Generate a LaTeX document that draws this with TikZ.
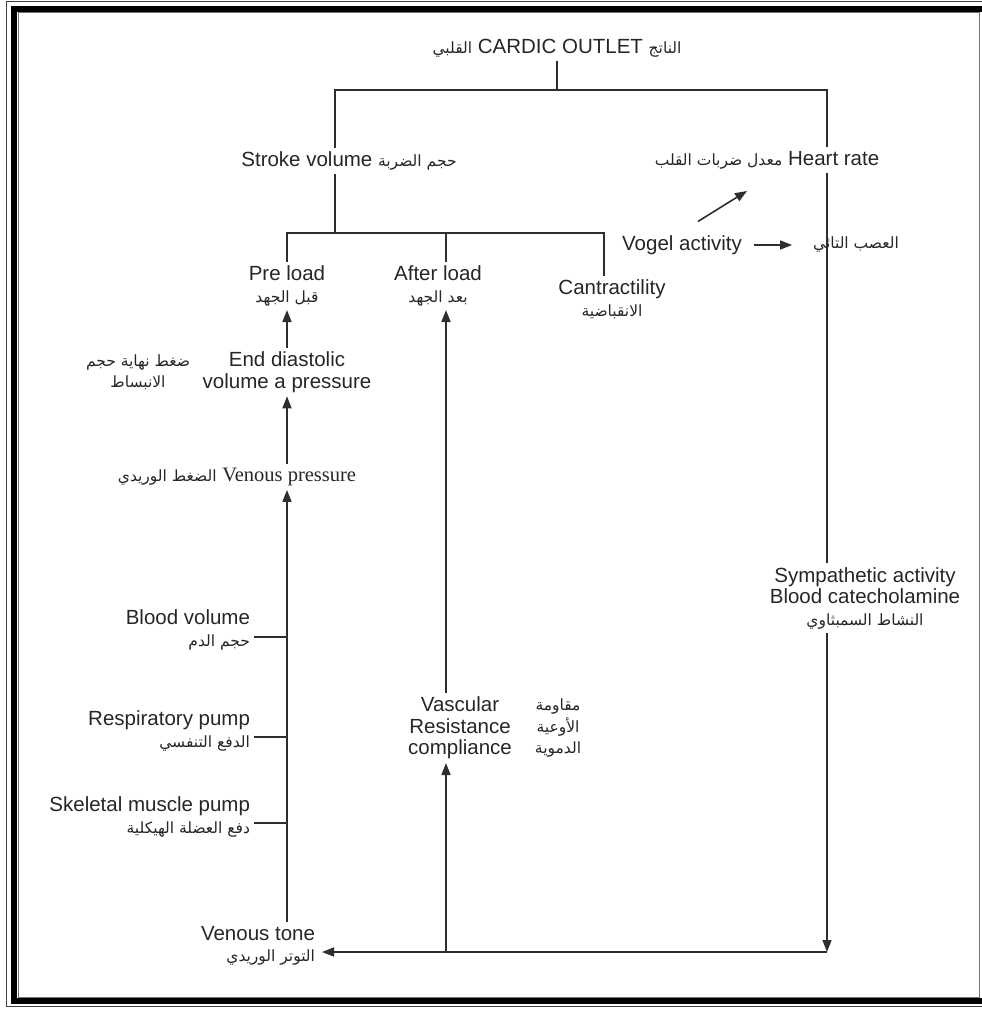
\documentclass[tikz,border=0pt]{standalone}
\usepackage{fontspec}
\setmainfont{Liberation Sans}
\newfontfamily\arfont[Script=Arabic]{DejaVu Sans}
\newfontfamily\serifen{Liberation Serif}
\TeXXeTstate=1
\usetikzlibrary{arrows.meta}
\newcommand{\AR}[1]{{\arfont\fontsize{15.5}{21.5}\selectfont\beginR #1\endR}}
\newcommand{\enfont}{\fontsize{20.5}{21.5}\selectfont}
\begin{document}
\begin{tikzpicture}[x=1pt,y=-1pt,
  ln/.style={draw=black!82, line width=1.6pt},
  arr/.style={ln, -{Triangle[length=12pt,width=9pt]}},
  lbl/.style={inner sep=0pt, outer sep=4pt, font=\enfont, align=center, text=black!85},
]
\useasboundingbox (0,0) rectangle (982,1009);
% frame
\draw[black!75, line width=1pt] (6.5,1.5) rectangle (998,1006.5);
\draw[black, line width=6.4pt] (14.2,9.2) rectangle (990,1001);
\draw[black!55, line width=1pt] (18.3,12.8) rectangle (979.5,997);

% nodes
\node[lbl] (co) at (557,48) {\AR{القلبي} CARDIC OUTLET \AR{الناتج}};
\node[lbl] (sv) at (349,161) {Stroke volume \AR{حجم الضربة}};
\node[lbl] (hr) at (767,160) {\AR{معدل ضربات القلب} Heart rate};
\node[lbl] (pl) at (287,286) {Pre load\\\AR{قبل الجهد}};
\node[lbl] (al) at (438,286) {After load\\\AR{بعد الجهد}};
\node[lbl] (ct) at (612,299) {Cantractility\\\AR{الانقباضية}};
\node[lbl] (vg) at (682,245) {Vogel activity};
\node[lbl] (vn) at (856,245) {\AR{العصب التائي}};
\node[lbl] (ea) at (138,372) {\AR{ضغط نهاية حجم}\\\AR{الانبساط}};
\node[lbl] (ed) at (287,372) {End diastolic\\volume a pressure};
\node[lbl] (vp) at (237,477) {\AR{الضغط الوريدي} {\serifen Venous pressure}};
\node[lbl, anchor=east, align=right] (bv) at (254,630) {Blood volume\\\AR{حجم الدم}};
\node[lbl, anchor=east, align=right] (rp) at (254,731) {Respiratory pump\\\AR{الدفع التنفسي}};
\node[lbl, anchor=east, align=right] (sk) at (254,817) {Skeletal muscle pump\\\AR{دفع العضلة الهيكلية}};
\node[lbl, anchor=east, align=right] (vt) at (319,946) {Venous tone\\\AR{التوتر الوريدي}};
\node[lbl] (vr) at (460,728) {Vascular\\Resistance\\compliance};
\node[lbl] (va) at (558,728) {\AR{مقاومة}\\\AR{الأوعية}\\\AR{الدموية}};
\node[lbl] (sy) at (865,598) {Sympathetic activity\\Blood catecholamine\\\AR{النشاط السمبثاوي}};

% junctions
\coordinate (jm) at (557,90);
\coordinate (jl) at (335,90);
\coordinate (jr) at (827,90);
\coordinate (b2l) at (287,233);
\coordinate (b2s) at (335,233);
\coordinate (b2m) at (446,233);
\coordinate (b2r) at (604,233);
\coordinate (jb) at (827,952);
\coordinate (jv) at (446,952);
\coordinate (vtip) at (322,952);
\coordinate (tb) at ([yshift=-7pt]bv.east);
\coordinate (tr) at ([yshift=-6pt]rp.east);
\coordinate (ts) at ([yshift=-6pt]sk.east);

% connectors
\draw[ln] (co) -- (jm);
\draw[ln] (jl |- sv.north) -- (jl) -- (jr) -- (jr |- hr.north);
\draw[ln] (jl |- sv.south) -- (b2s);
\draw[ln] (pl) -- (b2l) -- (b2r) -- (b2r |- ct.north);
\draw[ln] (b2m) -- (b2m |- al.north);
\draw[ln] (jr |- hr.south) -- (jr |- sy.north);
\draw[arr] (jr |- sy.south) -- (jb);
\draw[arr] (jb) -- (vtip);
\draw[arr] (jv) -- (jv |- vr.south);
\draw[arr] (jv |- vr.north) -- (jv |- al.south);
\draw[arr] (ed.north) -- (pl.south);
\draw[arr] (vp.north -| ed) -- (ed.south);
\draw[arr] (vt.north -| ed) -- (vp.south -| ed);
\draw[ln] (tb) -- (tb -| ed);
\draw[ln] (tr) -- (tr -| ed);
\draw[ln] (ts) -- (ts -| ed);
\draw[arr, shorten <=8pt, shorten >=17pt] (vg.east) -- (vn.west);
\draw[arr] ([xshift=16pt,yshift=10pt]vg.north) -- ([xshift=-20pt,yshift=-18pt]hr.south);
\end{tikzpicture}
\end{document}
